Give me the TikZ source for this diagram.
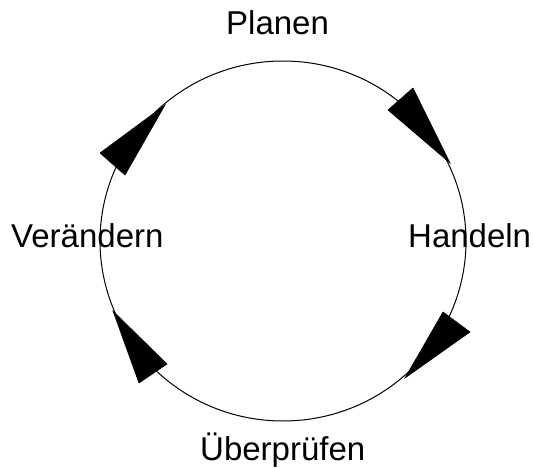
\documentclass[tikz,border=0pt]{standalone}
\usepackage{fontspec}
\setmainfont{Liberation Sans}
\begin{document}
\begin{tikzpicture}[x=1pt,y=-1pt,
  lbl/.style={inner sep=0pt,anchor=base west,font=\fontsize{33}{36}\selectfont},
  ring/.style={draw=black,line width=1pt},
  head/.style={fill=black,draw=black,line width=0.6pt,line join=miter}]
\useasboundingbox[fill=white] (0,0) rectangle (533,468);
\coordinate (c) at (283,241);
\draw[ring] (c) ellipse[x radius=183,y radius=180];
\fill[head] (388,110) -- (413,88) -- (450,163) -- cycle;
\fill[head] (443,312) -- (470,332) -- (405,378) -- cycle;
\fill[head] (113,311) -- (139,383) -- (167,364) -- cycle;
\fill[head] (100,153) -- (125,175) -- (165,105) -- cycle;
\node[lbl] (planen) at (226,35) {Planen};
\node[lbl] (handeln) at (408,247) {Handeln};
\node[lbl] (ueber) at (200,460) {Überprüfen};
\node[lbl] (veraendern) at (11,247) {Verändern};
\end{tikzpicture}
\end{document}
